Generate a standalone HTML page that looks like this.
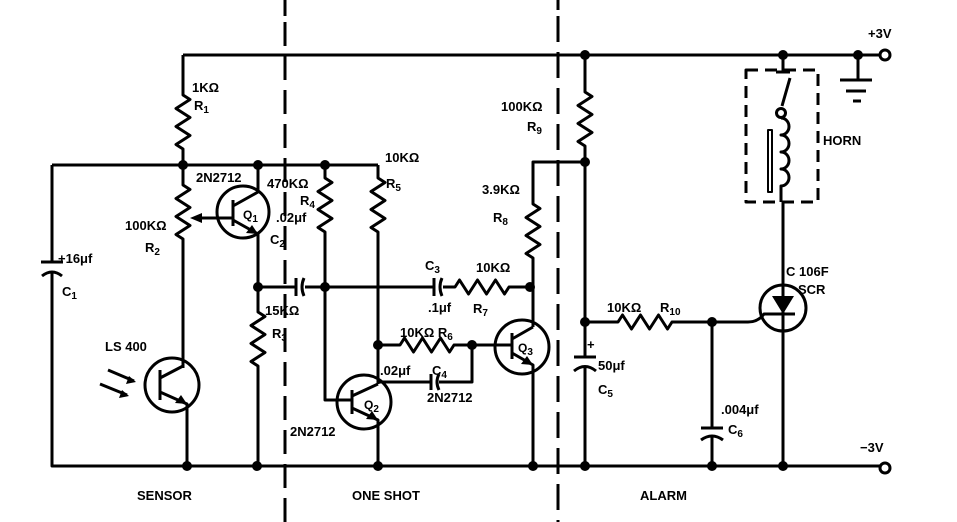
<!DOCTYPE html>
<html><head><style>
html,body{margin:0;padding:0;background:#fff;}
svg{display:block;}
text{font-family:"Liberation Sans",sans-serif;font-weight:bold;font-size:13px;fill:#000;}
.s{font-size:10px;}
</style></head><body>
<svg width="957" height="522" viewBox="0 0 957 522" xmlns="http://www.w3.org/2000/svg">
<g fill="none" stroke="#000" stroke-width="3" stroke-linejoin="round">
<path d="M285 0V16" />
<path d="M285 22V522" stroke-dasharray="24 10"/>
<path d="M558 0V10" />
<path d="M558 16V522" stroke-dasharray="26 10"/>
<path d="M183 55H880"/>
<path d="M52 165H378"/>
<path d="M52 165V262M52 272V466H880"/>
<path d="M41 262H63"/><path d="M42 276Q52 268 62 276"/>
<path d="M183 55V95l7 4.5l-14 9l14 9l-14 9l14 9l-14 9l7 4.5V165"/>
<path d="M183 165V185l7 4.5l-14 9l14 9l-14 9l14 9l-14 9l7 4.5V368"/>
<circle cx="172" cy="385" r="27"/>
<path d="M160 370V400M160 378L183 366M160 392L187 404V466"/>
<path d="M108 370L134 381M100 384L127 395" />
<circle cx="243" cy="212" r="26"/>
<path d="M196 218H233M233 200V226M233 206L258 192V165M233 220L258 234V287"/>
<path d="M258 287V312l7 4.5l-14 9l14 9l-14 9l14 9l-14 9l7 4.5V466"/>
<path d="M258 287H295M305 287H433M443 287H455l4.5 -7l9 14l9 -14l9 14l9 -14l9 14l4.5 -7H533"/>
<path d="M296 278V296"/><path d="M304 278Q300 287 304 296"/>
<path d="M434 278V296"/><path d="M442 278Q438 287 442 296"/>
<path d="M325 165V178l7 4.5l-14 9l14 9l-14 9l14 9l-14 9l7 4.5V400H352"/>
<path d="M378 165V178l7 4.5l-14 9l14 9l-14 9l14 9l-14 9l7 4.5V384"/>
<circle cx="364" cy="402" r="27"/>
<path d="M352 390V414M352 396L378 384M352 408L378 420V466"/>
<path d="M378 345H400l4.5 -7l9 14l9 -14l9 14l9 -14l9 14l4.5 -7H472V382H439M430 382H378"/>
<path d="M431 374V390"/><path d="M439 374Q435 382 439 390"/>
<path d="M472 345H512"/>
<circle cx="522" cy="347" r="27"/>
<path d="M512 333V359M512 339L533 327M512 353L533 365V466"/>
<path d="M533 327V258l-7 -4.5l14 -9l-14 -9l14 -9l-14 -9l14 -9l-7 -4.5V162H585"/>
<path d="M585 55V92l7 4.5l-14 9l14 9l-14 9l14 9l-14 9l7 4.5V357M585 367V466"/>
<path d="M574 357H596"/><path d="M574 371Q585 362 596 371"/>
<path d="M585 322H618l4.5 -7l9 14l9 -14l9 14l9 -14l9 14l4.5 -7H712V428M712 436V466"/>
<path d="M701 428H723"/><path d="M701 440Q712 432 723 440"/>
<path d="M712 322H748Q758 322 764 314H783"/>
<circle cx="783" cy="308" r="23"/>
<path d="M783 202V466"/>
<path d="M771 314H795"/>
<path d="M746 70H818V202H746Z" stroke-dasharray="12 7"/>
<path d="M783 55V72M776 72H790M790 78L782 106M781 118a8 8.5 0 1 1 0 17a8 8.5 0 1 1 0 17a8 8.5 0 1 1 0 17a8 8.5 0 1 1 0 17V202"/>
<circle cx="781" cy="113" r="4.5"/>
<rect x="768" y="130" width="4" height="62" stroke-width="2"/>
<path d="M858 55V80M840 80H872M846 91H866M853 101H861"/>
<circle cx="885" cy="55" r="5"/>
<circle cx="885" cy="468" r="5"/>
</g>
<g fill="#000">
<polygon points="772,296 794,296 783,314"/>
<polygon points="190,218 202,213 202,223"/>
<polygon points="258,234 246,233 252,225"/>
<polygon points="378,420 366,419 372,411"/>
<polygon points="533,365 521,364 527,356"/>
<polygon points="187,404 175,403 181,395"/>
<polygon points="136,382 126,384 129,376"/>
<polygon points="129,396 119,398 122,390"/>
<circle cx="183" cy="165" r="5"/><circle cx="258" cy="165" r="5"/><circle cx="325" cy="165" r="5"/>
<circle cx="258" cy="287" r="5"/><circle cx="325" cy="287" r="5"/><circle cx="530" cy="287" r="5"/>
<circle cx="378" cy="345" r="5"/><circle cx="472" cy="345" r="5"/>
<circle cx="585" cy="55" r="5"/><circle cx="783" cy="55" r="5"/><circle cx="858" cy="55" r="5"/>
<circle cx="585" cy="162" r="5"/><circle cx="585" cy="322" r="5"/><circle cx="712" cy="322" r="5"/>
<circle cx="187" cy="466" r="5"/><circle cx="257" cy="466" r="5"/><circle cx="378" cy="466" r="5"/>
<circle cx="533" cy="466" r="5"/><circle cx="585" cy="466" r="5"/><circle cx="712" cy="466" r="5"/><circle cx="783" cy="466" r="5"/>
</g>
<text x="192" y="92">1KΩ</text><text x="194" y="110">R<tspan class="s" dy="3">1</tspan></text>
<text x="58" y="263">+16μf</text><text x="62" y="296">C<tspan class="s" dy="3">1</tspan></text>
<text x="125" y="230">100KΩ</text><text x="145" y="252">R<tspan class="s" dy="3">2</tspan></text>
<text x="196" y="182">2N2712</text>
<text x="243" y="219" style="font-size:12px">Q<tspan class="s" dy="3">1</tspan></text>
<text x="105" y="351">LS 400</text>
<text x="267" y="188">470KΩ</text><text x="300" y="205">R<tspan class="s" dy="3">4</tspan></text>
<text x="276" y="222">.02μf</text><text x="270" y="244">C<tspan class="s" dy="3">2</tspan></text>
<text x="265" y="315">15KΩ</text><text x="272" y="338">R<tspan class="s" dy="3">3</tspan></text>
<text x="290" y="436">2N2712</text>
<text x="385" y="162">10KΩ</text><text x="386" y="188">R<tspan class="s" dy="3">5</tspan></text>
<text x="425" y="270">C<tspan class="s" dy="3">3</tspan></text><text x="428" y="312">.1μf</text>
<text x="476" y="272">10KΩ</text><text x="473" y="313">R<tspan class="s" dy="3">7</tspan></text>
<text x="400" y="337">10KΩ R<tspan class="s" dy="3">6</tspan></text>
<text x="380" y="375">.02μf</text><text x="432" y="375">C<tspan class="s" dy="3">4</tspan></text>
<text x="427" y="402">2N2712</text>
<text x="364" y="409" style="font-size:12px">Q<tspan class="s" dy="3">2</tspan></text>
<text x="518" y="352" style="font-size:12px">Q<tspan class="s" dy="3">3</tspan></text>
<text x="482" y="194">3.9KΩ</text><text x="493" y="222">R<tspan class="s" dy="3">8</tspan></text>
<text x="501" y="111">100KΩ</text><text x="527" y="131">R<tspan class="s" dy="3">9</tspan></text>
<text x="587" y="349">+</text><text x="598" y="370">50μf</text><text x="598" y="394">C<tspan class="s" dy="3">5</tspan></text>
<text x="607" y="312">10KΩ</text><text x="660" y="312">R<tspan class="s" dy="3">10</tspan></text>
<text x="721" y="414">.004μf</text><text x="728" y="434">C<tspan class="s" dy="3">6</tspan></text>
<text x="786" y="276">C 106F</text><text x="798" y="294">SCR</text>
<text x="823" y="145">HORN</text>
<text x="868" y="38">+3V</text><text x="860" y="452">−3V</text>
<text x="137" y="500">SENSOR</text><text x="352" y="500">ONE SHOT</text><text x="640" y="500">ALARM</text>
</svg>
</body></html>
